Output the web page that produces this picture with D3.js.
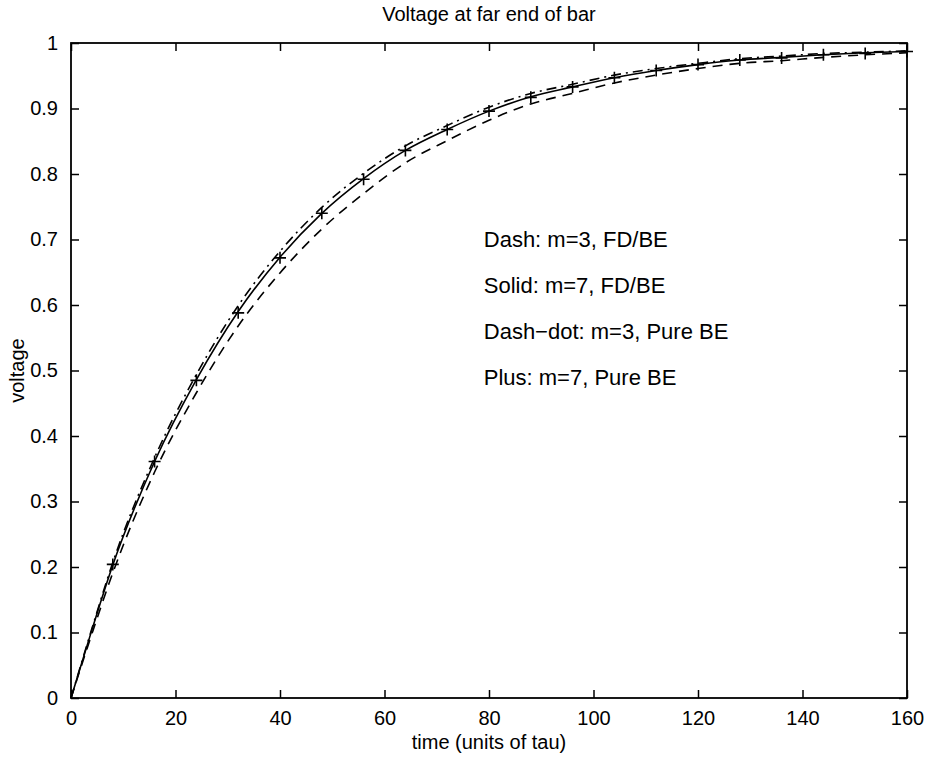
<!DOCTYPE html>
<html><head><meta charset="utf-8">
<script src="https://cdn.jsdelivr.net/npm/d3@7/dist/d3.min.js"></script>
<style>
body{margin:0;background:#fff;}
text{font-family:"Liberation Sans",Arial,Helvetica,sans-serif;fill:#000;}
</style></head>
<body><svg id="c" width="930" height="757"></svg>
<script>
const timeX   = [0,4,8,16,24,32,40,48,56,64,72,80,88,96,104,112,120,128,136,144,152,160];
const dashY   = [0,0.098,0.191,0.345,0.466,0.568,0.649,0.716,0.770,0.817,0.851,0.882,0.907,0.923,0.939,0.951,0.961,0.969,0.973,0.978,0.982,0.985];
const solidY  = [0,0.104,0.203,0.361,0.486,0.590,0.673,0.740,0.793,0.836,0.868,0.896,0.918,0.933,0.947,0.958,0.967,0.974,0.978,0.982,0.985,0.987];
const dashDotY= [0,0.106,0.207,0.367,0.494,0.599,0.682,0.749,0.801,0.843,0.874,0.902,0.923,0.937,0.951,0.961,0.969,0.976,0.980,0.984,0.986,0.988];
const plusX   = [8,16,24,32,40,48,56,64,72,80,88,96,104,112,120,128,136,144,152,160];
const plusY   = [0.204,0.361,0.485,0.588,0.672,0.740,0.792,0.836,0.868,0.896,0.917,0.933,0.947,0.958,0.967,0.974,0.977,0.982,0.984,0.987];
const xTicks  = [0,20,40,60,80,100,120,140,160];
const yTicks  = [0,0.1,0.2,0.3,0.4,0.5,0.6,0.7,0.8,0.9,1];
const notes   = ["Dash: m=3, FD/BE","Solid: m=7, FD/BE","Dash\u2212dot: m=3, Pure BE","Plus: m=7, Pure BE"];

const svg = d3.select("#c");
const L=71,R=907,T=43,B=698;
const x = d3.scaleLinear().domain([0,160]).range([L,R]);
const y = d3.scaleLinear().domain([0,1]).range([B,T]);
const fs = 20, tl = 8;

const fmtY = d => d===0?"0":d===1?"1":d3.format(".1f")(d);
const ax = (a)=>a.tickSizeOuter(0);
svg.append("g").attr("transform",`translate(0,${B})`)
  .call(ax(d3.axisBottom(x).tickValues(xTicks).tickSize(-tl).tickPadding(tl+5).tickFormat(d3.format("d"))));
svg.append("g").attr("transform",`translate(0,${T})`)
  .call(ax(d3.axisTop(x).tickValues(xTicks).tickSize(-tl).tickFormat("")));
svg.append("g").attr("transform",`translate(${L},0)`)
  .call(ax(d3.axisLeft(y).tickValues(yTicks).tickSize(-tl).tickPadding(tl+5).tickFormat(fmtY)));
svg.append("g").attr("transform",`translate(${R},0)`)
  .call(ax(d3.axisRight(y).tickValues(yTicks).tickSize(-tl).tickFormat("")));
svg.selectAll(".domain").remove();
svg.selectAll(".tick line").attr("stroke","#000").attr("stroke-width",1.5);
svg.selectAll(".tick text").attr("font-size",fs).attr("font-family","Liberation Sans, Arial, sans-serif").attr("fill","#000");
svg.append("rect").attr("x",L).attr("y",T).attr("width",R-L).attr("height",B-T)
  .attr("fill","none").attr("stroke","#000").attr("stroke-width",1.8);

const g = svg.append("g");
const line = d3.line().x(d=>x(d[0])).y(d=>y(d[1])).curve(d3.curveMonotoneX);
const series = [
  {v:dashY, dash:"10,7"},
  {v:solidY, dash:null},
  {v:dashDotY, dash:"10,5,2,5"}
];
series.forEach(s=>{
  g.append("path").datum(timeX.map((t,i)=>[t,s.v[i]]))
    .attr("d",line).attr("fill","none").attr("stroke","#000").attr("stroke-width",1.6)
    .attr("stroke-dasharray",s.dash);
});
const ms=6;
g.selectAll(".plus").data(plusX.map((t,i)=>[t,plusY[i]])).join("path")
  .attr("d",d=>`M${x(d[0])-ms},${y(d[1])}H${x(d[0])+ms}M${x(d[0])},${y(d[1])-ms}V${y(d[1])+ms}`)
  .attr("stroke","#000").attr("stroke-width",1.6).attr("fill","none");

svg.append("text").attr("x",(L+R)/2).attr("y",21).attr("text-anchor","middle").attr("font-size",fs).text("Voltage at far end of bar");
svg.append("text").attr("x",(L+R)/2).attr("y",749).attr("text-anchor","middle").attr("font-size",fs).text("time (units of tau)");
svg.append("text").attr("transform",`translate(24,${(T+B)/2}) rotate(-90)`).attr("text-anchor","middle").attr("font-size",fs).text("voltage");
notes.forEach((n,i)=>{
  svg.append("text").attr("x",x(79)).attr("y",y(0.688-i*0.07)).attr("font-size",22).text(n);
});
</script></body></html>
